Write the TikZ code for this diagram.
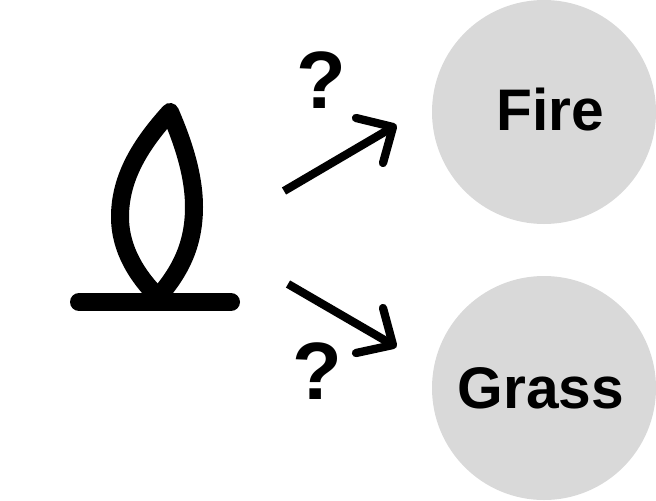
\documentclass[tikz,border=0pt]{standalone}
\usepackage{fontspec}
\setmainfont{Liberation Sans}
\usetikzlibrary{calc,positioning}
\definecolor{ink}{HTML}{000000}
\definecolor{discfill}{HTML}{D9D9D9}
\tikzset{
  typedisc/.style={circle,fill=discfill,minimum size=168pt,inner sep=0pt},
  typelabel/.style={inner sep=0pt,text=ink,font=\fontsize{44}{44}\selectfont\bfseries},
  asknode/.style={inner sep=0pt,text=ink,font=\fontsize{61}{61}\selectfont\bfseries},
  choicearr/.style={draw=ink,line width=6.2pt},
  choicehead/.style={draw=ink,line width=6.2pt,line cap=round,line join=round},
  flameline/.style={draw=ink,line width=13.5pt,line cap=round,line join=round}
}
\begin{document}
\begin{tikzpicture}[x=0.75pt,y=-0.75pt]
  \useasboundingbox (0,0) rectangle (656,500);
  % flame on its burner
  \draw[flameline] (170,112) .. controls (140,145) and (120,178) .. (120,217)
    .. controls (120,250) and (138,277) .. (158,297)
    .. controls (180,272) and (194,245) .. (194,207)
    .. controls (194,175) and (183,142) .. (170,112) -- cycle;
  \coordinate (burnerl) at (79,302);
  \coordinate (burnerr) at (231,302);
  \draw[flameline] (burnerl) -- (burnerr);
  % the two types
  \node[typedisc] (fire) at (544,112) {};
  \node[typedisc] (grass) at (544,388) {};
  \node[typelabel] (firetext) at (550.5,110) {Fire};
  \node[typelabel] (grasstext) at (541,388) {Grass};
  \node[asknode] (askup) at (321.5,80) {?};
  \node[asknode] (askdown) at (317.5,371) {?};
  % guesses
  \coordinate (upfrom) at (284,191);
  \coordinate (uptip) at (393,127);
  \coordinate (downfrom) at (288,284);
  \coordinate (downtip) at (393,345);
  \draw[choicearr] (upfrom) -- (uptip);
  \draw[choicehead] (356,118) -- (uptip) -- (383,163);
  \draw[choicearr] (downfrom) -- (downtip);
  \draw[choicehead] (383,308) -- (downtip) -- (356,353);
\end{tikzpicture}
\end{document}
